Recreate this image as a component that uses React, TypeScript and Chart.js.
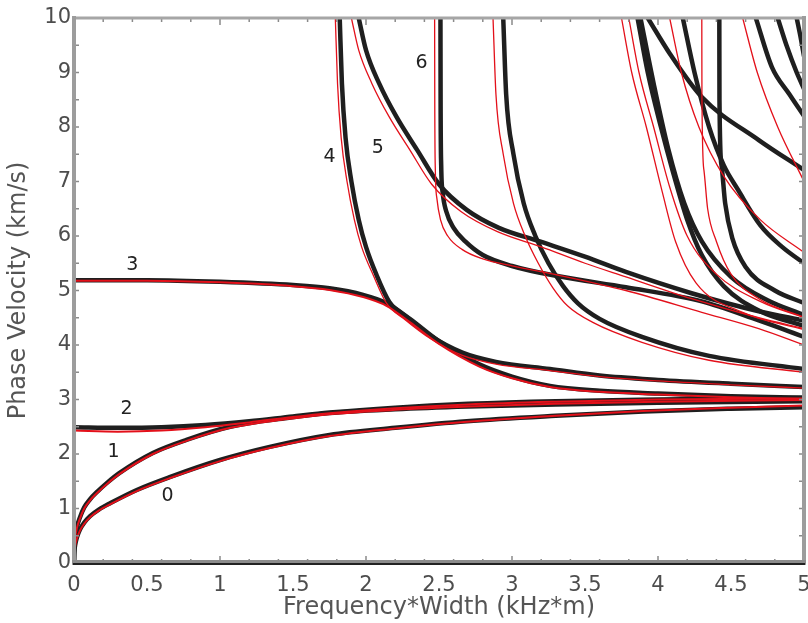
import React, { useEffect, useRef } from "react";
import { Chart, registerables } from "chart.js";

Chart.register(...registerables);

type Pt = [number, number];

// ---- Axis settings ----
const xMin = 0, xMax = 5, xLabelStep = 0.5, xMinorStep = 0.2;
const yMin = 0, yMax = 10, yLabelStep = 1, yMinorStep = 0.5;
const xTitle = "Frequency*Width (kHz*m)";
const yTitle = "Phase Velocity (km/s)";

// ---- Mode labels ----
const modeLabels = ["0", "1", "2", "3", "4", "5", "6"];
const modeLabelX = [0.64, 0.27, 0.36, 0.4, 1.75, 2.08, 2.38];
const modeLabelY = [1.22, 2.04, 2.83, 5.47, 7.45, 7.61, 9.17];

// ---- Measured (black) curves ----
const mode0Black: Pt[] = [[0, 0], [0.002, 0.18], [0.008, 0.33], [0.02, 0.47], [0.04, 0.61], [0.07, 0.74], [0.11, 0.86], [0.17, 0.98], [0.25, 1.1], [0.43, 1.34], [0.66, 1.58], [1.0, 1.89], [1.34, 2.13], [1.75, 2.35], [2.2, 2.48], [2.69, 2.6], [3.3, 2.7], [3.9, 2.78], [4.5, 2.83], [5, 2.86]];
const mode1Black: Pt[] = [[0, 0], [0.002, 0.26], [0.008, 0.48], [0.02, 0.66], [0.04, 0.83], [0.07, 1.02], [0.11, 1.17], [0.16, 1.31], [0.23, 1.48], [0.31, 1.65], [0.54, 2.02], [0.77, 2.26], [1.07, 2.5], [1.46, 2.66], [1.75, 2.75], [2.2, 2.82], [2.7, 2.87], [3.3, 2.91], [4, 2.94], [5, 2.97]];
const mode2Black: Pt[] = [[0, 2.49], [0.3, 2.48], [0.6, 2.49], [0.9, 2.53], [1.2, 2.6], [1.5, 2.69], [1.75, 2.76], [2.2, 2.85], [2.7, 2.92], [3.3, 2.97], [4, 3.0], [5, 3.03]];
const mode3Black: Pt[] = [[0, 5.19], [0.5, 5.19], [1.0, 5.16], [1.5, 5.1], [1.75, 5.04], [1.98, 4.92], [2.14, 4.77], [2.3, 4.48], [2.5, 4.07], [2.78, 3.64], [3.0, 3.42], [3.26, 3.25], [3.6, 3.16], [4.0, 3.11], [4.5, 3.06], [5.0, 3.03]];
const mode4Black: Pt[] = [[1.82, 10], [1.835, 8.8], [1.86, 7.8], [1.9, 7.0], [1.95, 6.3], [2.0, 5.8], [2.07, 5.3], [2.16, 4.79], [2.28, 4.51], [2.44, 4.17], [2.66, 3.86], [2.89, 3.69], [3.26, 3.56], [3.6, 3.44], [4.0, 3.36], [4.5, 3.29], [5.0, 3.23]];
const mode5Black: Pt[] = [[1.95, 10], [2.0, 9.41], [2.09, 8.8], [2.21, 8.18], [2.35, 7.58], [2.5, 6.95], [2.69, 6.48], [2.91, 6.15], [3.19, 5.9], [3.5, 5.62], [3.78, 5.34], [4.23, 4.95], [4.69, 4.62], [5, 4.45]];
const mode6Black: Pt[] = [[2.51, 10], [2.511, 8.5], [2.515, 7.3], [2.525, 6.8], [2.55, 6.45], [2.6, 6.15], [2.68, 5.9], [2.8, 5.65], [3.0, 5.45], [3.32, 5.26], [3.78, 5.06], [4.3, 4.8], [4.69, 4.45], [5, 4.15]];
const mode7Black: Pt[] = [[2.94, 10], [2.96, 8.6], [3.01, 7.5], [3.08, 6.6], [3.16, 6.0], [3.25, 5.5], [3.35, 5.08], [3.45, 4.77], [3.6, 4.48], [3.89, 4.15], [4.35, 3.8], [5, 3.56]];
const c1Black: Pt[] = [[3.86, 10], [3.93, 9.0], [4.02, 8.0], [4.1, 7.2], [4.2, 6.3], [4.3, 5.65], [4.45, 5.08], [4.7, 4.62], [5, 4.35]];
const c2Black: Pt[] = [[3.93, 10], [4.08, 9.35], [4.3, 8.55], [4.69, 7.76], [5, 7.21]];
const c3Black: Pt[] = [[3.88, 10], [3.97, 8.8], [4.07, 7.6], [4.18, 6.6], [4.3, 5.9], [4.5, 5.25], [4.75, 4.82], [5, 4.55]];
const c4Black: Pt[] = [[4.17, 10], [4.25, 9.0], [4.35, 8.0], [4.45, 7.3], [4.55, 6.84], [4.7, 6.2], [4.85, 5.8], [5, 5.5]];
const c5Black: Pt[] = [[4.42, 10], [4.421, 8.5], [4.435, 7.3], [4.46, 6.6], [4.51, 5.95], [4.6, 5.43], [4.8, 5.0], [5, 4.77]];
const t1Black: Pt[] = [[4.67, 10], [4.78, 9.1], [4.9, 8.6], [5, 8.2]];
const t2Black: Pt[] = [[4.82, 10], [4.88, 9.5], [4.95, 9.0], [5, 8.7]];
const t3Black: Pt[] = [[4.95, 10], [4.98, 9.6], [5, 9.3]];

// ---- Theoretical (red) curves ----
const mode0Red: Pt[] = [[0, 0], [0.002, 0.16], [0.008, 0.31], [0.02, 0.45], [0.04, 0.59], [0.07, 0.72], [0.11, 0.84], [0.17, 0.96], [0.25, 1.08], [0.43, 1.32], [0.66, 1.56], [1.0, 1.87], [1.34, 2.11], [1.75, 2.33], [2.2, 2.47], [2.69, 2.59], [3.3, 2.7], [3.9, 2.79], [4.5, 2.85], [5, 2.89]];
const mode1Red: Pt[] = [[0, 0], [0.002, 0.24], [0.008, 0.46], [0.02, 0.64], [0.04, 0.81], [0.07, 1.0], [0.11, 1.15], [0.16, 1.29], [0.23, 1.46], [0.31, 1.63], [0.54, 2.0], [0.77, 2.24], [1.07, 2.48], [1.46, 2.64], [1.75, 2.73], [2.2, 2.81], [2.7, 2.87], [3.3, 2.92], [4, 2.96], [5, 2.99]];
const mode2Red: Pt[] = [[0, 2.43], [0.3, 2.41], [0.6, 2.43], [0.9, 2.49], [1.2, 2.58], [1.5, 2.68], [1.75, 2.75], [2.2, 2.84], [2.7, 2.91], [3.3, 2.96], [4, 3.0], [5, 3.02]];
const mode3Red: Pt[] = [[0, 5.18], [0.5, 5.18], [1.0, 5.15], [1.5, 5.08], [1.75, 5.01], [1.98, 4.88], [2.14, 4.72], [2.3, 4.42], [2.5, 4.02], [2.78, 3.6], [3.0, 3.39], [3.26, 3.23], [3.6, 3.14], [4.0, 3.09], [4.5, 3.04], [5.0, 3.01]];
const mode4Red: Pt[] = [[1.79, 10], [1.805, 8.8], [1.83, 7.8], [1.87, 7.0], [1.92, 6.3], [1.97, 5.8], [2.05, 5.28], [2.14, 4.77], [2.27, 4.46], [2.44, 4.12], [2.66, 3.81], [2.89, 3.65], [3.26, 3.53], [3.6, 3.42], [4.0, 3.34], [4.5, 3.27], [5.0, 3.21]];
const mode5Red: Pt[] = [[1.9, 10], [1.95, 9.41], [2.04, 8.8], [2.16, 8.18], [2.3, 7.58], [2.45, 6.95], [2.65, 6.45], [2.9, 6.08], [3.2, 5.8], [3.5, 5.5], [3.78, 5.25], [4.23, 4.85], [4.69, 4.5], [5, 4.3]];
const mode6Red: Pt[] = [[2.47, 10], [2.471, 8.5], [2.475, 7.2], [2.485, 6.7], [2.51, 6.3], [2.56, 6.0], [2.66, 5.75], [2.8, 5.58], [3.0, 5.45], [3.32, 5.28], [3.78, 5.0], [4.3, 4.6], [4.69, 4.3], [5, 4.0]];
const mode7Red: Pt[] = [[2.87, 10], [2.89, 8.6], [2.94, 7.5], [3.01, 6.6], [3.09, 6.0], [3.18, 5.5], [3.28, 5.05], [3.38, 4.72], [3.55, 4.42], [3.89, 4.05], [4.35, 3.72], [5, 3.5]];
const c1Red: Pt[] = [[3.75, 10], [3.82, 9.0], [3.92, 8.0], [4.03, 6.8], [4.12, 5.9], [4.26, 5.14], [4.58, 4.6], [5, 4.28]];
const c2Red: Pt[] = [[4.08, 10], [4.16, 9.0], [4.28, 8.0], [4.45, 7.1], [4.7, 6.3], [5, 5.7]];
const c3Red: Pt[] = [[3.8, 10], [3.87, 9.0], [3.97, 8.0], [4.08, 6.9], [4.2, 6.0], [4.4, 5.3], [4.7, 4.8], [5, 4.5]];
const c5Red: Pt[] = [[4.3, 10], [4.301, 8.5], [4.315, 7.2], [4.34, 6.5], [4.4, 5.9], [4.5, 5.3], [4.69, 4.85], [5, 4.51]];
const t1Red: Pt[] = [[4.58, 10], [4.68, 9.0], [4.82, 8.0], [5, 7.0]];

const blackCurves: Pt[][] = [mode0Black, mode1Black, mode2Black, mode3Black, mode4Black, mode5Black, mode6Black, mode7Black, c1Black, c2Black, c3Black, c4Black, c5Black, t1Black, t2Black, t3Black];
const redCurves: Pt[][] = [mode0Red, mode1Red, mode2Red, mode3Red, mode4Red, mode5Red, mode6Red, mode7Red, c1Red, c2Red, c3Red, c5Red, t1Red];
const thickRedCount = 4; // low modes drawn with a heavier red line

const FONT = "'DejaVu Sans', Verdana, sans-serif";

const fmt = (v: any) => `${+Number(v).toFixed(2)}`;

const framePlugin = {
  id: "frameAndLabels",
  afterDatasetsDraw(chart: any) {
    const { ctx, chartArea, scales } = chart;
    const { left, right, top, bottom } = chartArea;
    const xs = scales.x, ys = scales.y;
    ctx.save();
    // inward tick marks
    ctx.strokeStyle = "#8a8a8a";
    ctx.lineWidth = 1.5;
    const nX = Math.round((xMax - xMin) / xMinorStep);
    for (let i = 0; i <= nX; i++) {
      const v = xMin + i * xMinorStep;
      const p = xs.getPixelForValue(v);
      const major = Math.abs(v - Math.round(v)) < 1e-6;
      const len = major ? 7 : 4;
      ctx.beginPath();
      ctx.moveTo(p, bottom);
      ctx.lineTo(p, bottom - len);
      ctx.moveTo(p, top);
      ctx.lineTo(p, top + len);
      ctx.stroke();
    }
    const nY = Math.round((yMax - yMin) / yMinorStep);
    for (let i = 0; i <= nY; i++) {
      const v = yMin + i * yMinorStep;
      const p = ys.getPixelForValue(v);
      ctx.beginPath();
      ctx.moveTo(left, p);
      ctx.lineTo(left + 5, p);
      ctx.moveTo(right, p);
      ctx.lineTo(right - 5, p);
      ctx.stroke();
    }
    // frame
    ctx.lineCap = "square";
    ctx.strokeStyle = "#a6a6a6";
    ctx.lineWidth = 3;
    ctx.beginPath();
    ctx.moveTo(left, top);
    ctx.lineTo(right, top);
    ctx.stroke();
    ctx.strokeStyle = "#9c9c9c";
    ctx.lineWidth = 4;
    ctx.beginPath();
    ctx.moveTo(left, bottom);
    ctx.lineTo(left, top);
    ctx.moveTo(right, top);
    ctx.lineTo(right, bottom);
    ctx.stroke();
    ctx.strokeStyle = "#8c8c8c";
    ctx.lineWidth = 4;
    ctx.beginPath();
    ctx.moveTo(left, bottom - 1);
    ctx.lineTo(right, bottom - 1);
    ctx.stroke();
    ctx.strokeStyle = "#222";
    ctx.lineWidth = 2;
    ctx.beginPath();
    ctx.moveTo(left, bottom + 1);
    ctx.lineTo(right, bottom + 1);
    ctx.stroke();
    // mode labels
    ctx.fillStyle = "#222";
    ctx.font = `19px ${FONT}`;
    ctx.textAlign = "center";
    ctx.textBaseline = "middle";
    modeLabels.forEach((t, i) => {
      ctx.fillText(t, xs.getPixelForValue(modeLabelX[i]), ys.getPixelForValue(modeLabelY[i]));
    });
    ctx.restore();
  },
};

export default function App() {
  const ref = useRef<HTMLCanvasElement | null>(null);
  useEffect(() => {
    if (!ref.current) return;
    const datasets: any[] = [];
    const common = {
      showLine: true,
      pointRadius: 0,
      cubicInterpolationMode: "monotone",
      borderCapStyle: "round",
      borderJoinStyle: "round",
    };
    blackCurves.forEach((c, i) => {
      datasets.push({
        ...common,
        label: `measured ${i}`,
        data: c.map(([x, y]) => ({ x, y })),
        borderColor: "#1f1f1f",
        borderWidth: 4.5,
        order: 2,
      });
    });
    redCurves.forEach((c, i) => {
      datasets.push({
        ...common,
        label: `theory ${i}`,
        data: c.map(([x, y]) => ({ x, y })),
        borderColor: "#e3101a",
        borderWidth: i < thickRedCount ? 2 : 1.3,
        order: 1,
      });
    });
    const chart = new Chart(ref.current, {
      type: "scatter",
      data: { datasets },
      options: {
        animation: false,
        responsive: false,
        devicePixelRatio: 1,
        layout: { padding: { top: 18, right: 4, bottom: 0, left: 0 } },
        plugins: { legend: { display: false }, tooltip: { enabled: false } },
        scales: {
          x: {
            type: "linear",
            min: xMin,
            max: xMax,
            grid: { display: false, drawTicks: false },
            border: { display: false },
            ticks: {
              stepSize: xLabelStep,
              color: "#4d4d4d",
              font: { family: FONT, size: 21 },
              padding: 10,
              maxRotation: 0,
              autoSkip: false,
              callback: (v: any) => fmt(v),
            },
            title: {
              display: true,
              text: xTitle,
              color: "#555",
              font: { family: FONT, size: 24 },
              padding: { top: 0, bottom: 1 },
            },
            afterFit: (s: any) => {
              s.height = 60;
              s.paddingLeft = 0;
              s.paddingRight = 0;
            },
          },
          y: {
            type: "linear",
            min: yMin,
            max: yMax,
            grid: { display: false, drawTicks: false },
            border: { display: false },
            ticks: {
              stepSize: yLabelStep,
              color: "#4d4d4d",
              font: { family: FONT, size: 21 },
              padding: 3,
              autoSkip: false,
              callback: (v: any) => fmt(v),
            },
            title: {
              display: true,
              text: yTitle,
              color: "#555",
              font: { family: FONT, size: 24 },
              padding: { top: 4, bottom: 0 },
            },
            afterFit: (s: any) => {
              s.width = 74;
              s.paddingTop = 0;
              s.paddingBottom = 0;
            },
          },
        },
      },
      plugins: [framePlugin],
    });
    return () => chart.destroy();
  }, []);
  return (
    <div style={{ position: "absolute", left: 0, top: 0, width: 808, height: 623, background: "#fff" }}>
      <canvas ref={ref} width={808} height={623} />
    </div>
  );
}
